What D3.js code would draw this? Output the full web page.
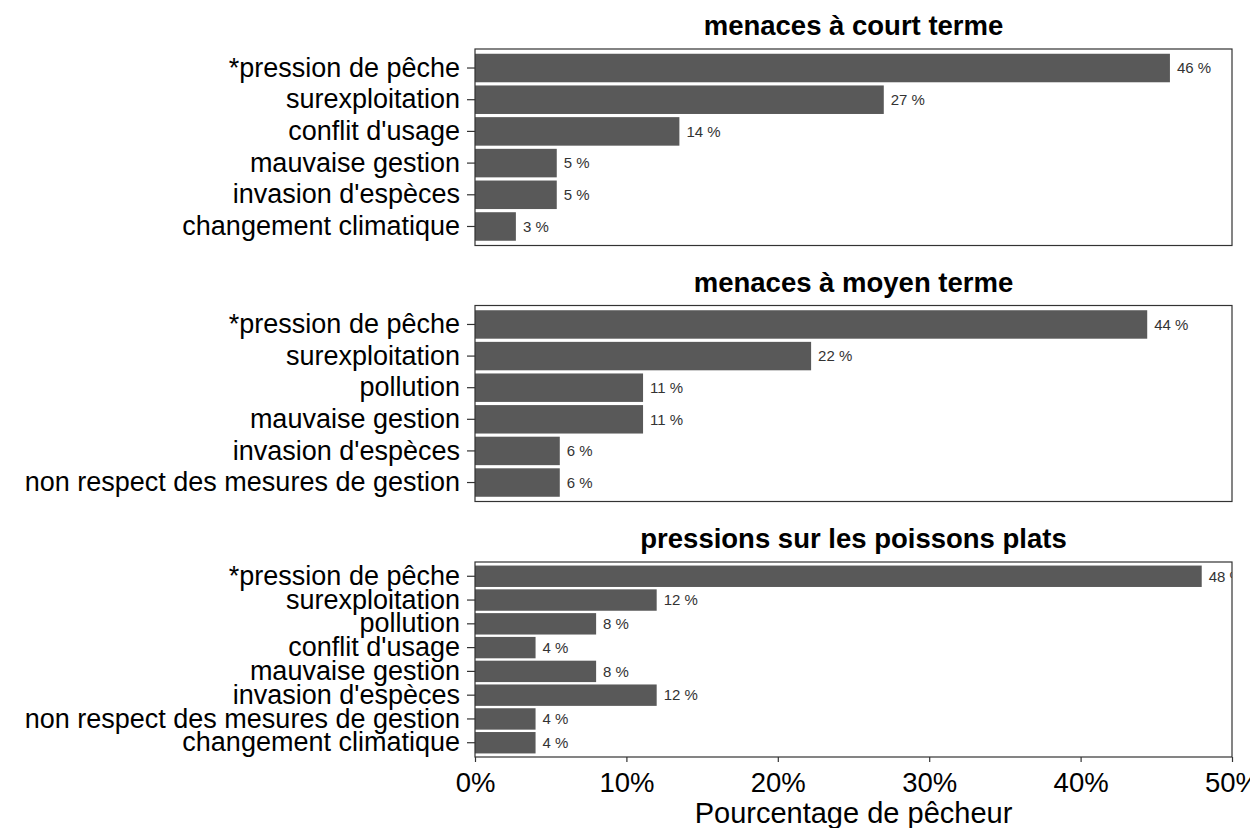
<!DOCTYPE html>
<html>
<head>
<meta charset="utf-8">
<script src="https://cdn.jsdelivr.net/npm/d3@7"></script>
<style>
	body { margin: 0; background: #fff; }
	svg { font-family: "Liberation Sans", Arial, sans-serif; }
</style>
</head>
<body>
<div id="chart"></div>
<script>
// categories per panel (top to bottom)
var shortCats = ["*pression de pêche", "surexploitation", "conflit d'usage",
	"mauvaise gestion", "invasion d'espèces", "changement climatique"];
var shortVals = [45.9, 27.0, 13.5, 5.4, 5.4, 2.7];

var midCats = ["*pression de pêche", "surexploitation", "pollution",
	"mauvaise gestion", "invasion d'espèces", "non respect des mesures de gestion"];
var midVals = [44.4, 22.2, 11.1, 11.1, 5.6, 5.6];

var flatCats = ["*pression de pêche", "surexploitation", "pollution", "conflit d'usage",
	"mauvaise gestion", "invasion d'espèces", "non respect des mesures de gestion",
	"changement climatique"];
var flatVals = [48, 12, 8, 4, 8, 12, 4, 4];

var titles = ["menaces à court terme", "menaces à moyen terme", "pressions sur les poissons plats"];
var xTicks = [0, 10, 20, 30, 40, 50];
var xTitle = "Pourcentage de pêcheur";

var width = 1250,
	height = 828;

var panels = [
	{title: titles[0], cats: shortCats, vals: shortVals, top: 49, bottom: 245.5},
	{title: titles[1], cats: midCats, vals: midVals, top: 305.5, bottom: 501.5},
	{title: titles[2], cats: flatCats, vals: flatVals, top: 562, bottom: 757}
];

var x = d3.scaleLinear()
	.domain([0, 50])
	.range([475, 1232]);

var svg = d3.select("#chart")
	.append("svg")
	.attr("width", width)
	.attr("height", height);

panels.forEach(function(p, i) {
	var y = d3.scaleBand()
		.domain(p.cats)
		.range([p.top, p.bottom])
		.paddingInner(0.1)
		.paddingOuter(0.15);

	var g = svg.append("g").attr("class", "panel");

	g.append("clipPath")
		.attr("id", "clip" + i)
		.append("rect")
		.attr("x", x.range()[0])
		.attr("y", p.top)
		.attr("width", x.range()[1] - x.range()[0])
		.attr("height", p.bottom - p.top);

	var rows = p.cats.map(function(c, j) { return {cat: c, val: p.vals[j]}; });

	var inner = g.append("g").attr("clip-path", "url(#clip" + i + ")");

	inner.selectAll("rect.bar")
		.data(rows)
		.enter()
		.append("rect")
		.attr("class", "bar")
		.attr("x", x(0))
		.attr("y", function(d) { return y(d.cat); })
		.attr("width", function(d) { return x(d.val) - x(0); })
		.attr("height", y.bandwidth())
		.attr("fill", "#595959");

	inner.selectAll("text.val")
		.data(rows)
		.enter()
		.append("text")
		.attr("class", "val")
		.attr("x", function(d) { return x(d.val) + 7; })
		.attr("y", function(d) { return y(d.cat) + y.bandwidth() / 2; })
		.attr("dy", "0.35em")
		.attr("font-size", "15px")
		.attr("fill", "#333")
		.text(function(d) { return Math.round(d.val) + " %"; });

	// panel border
	g.append("rect")
		.attr("x", x.range()[0])
		.attr("y", p.top)
		.attr("width", x.range()[1] - x.range()[0])
		.attr("height", p.bottom - p.top)
		.attr("fill", "none")
		.attr("stroke", "#333")
		.attr("stroke-width", 1.2);

	var yAxis = g.append("g")
		.attr("transform", "translate(" + x.range()[0] + ",0)")
		.call(d3.axisLeft(y).tickSize(8).tickPadding(7));
	yAxis.select(".domain").remove();
	yAxis.selectAll("line").attr("stroke", "#333").attr("stroke-width", 1.2);
	yAxis.selectAll("text")
		.attr("font-size", "27px")
		.attr("font-family", "Liberation Sans, Arial, sans-serif")
		.attr("fill", "#000");

	g.append("text")
		.attr("x", (x.range()[0] + x.range()[1]) / 2)
		.attr("y", p.top - 14)
		.attr("text-anchor", "middle")
		.attr("font-size", "27.5px")
		.attr("font-weight", "bold")
		.attr("fill", "#000")
		.text(p.title);

	if (i === panels.length - 1) {
		var xAxis = g.append("g")
			.attr("transform", "translate(0," + p.bottom + ")")
			.call(d3.axisBottom(x)
				.tickValues(xTicks)
				.tickFormat(function(d) { return d + "%"; })
				.tickSize(5)
				.tickPadding(10));
		xAxis.select(".domain").remove();
		xAxis.selectAll("line").attr("stroke", "#333").attr("stroke-width", 1.2);
		xAxis.selectAll("text")
			.attr("font-size", "27.5px")
			.attr("font-family", "Liberation Sans, Arial, sans-serif")
			.attr("fill", "#000");
	}
});

svg.append("text")
	.attr("x", (x.range()[0] + x.range()[1]) / 2)
	.attr("y", 823)
	.attr("text-anchor", "middle")
	.attr("font-size", "29px")
	.attr("fill", "#000")
	.text(xTitle);
</script>
</body>
</html>
